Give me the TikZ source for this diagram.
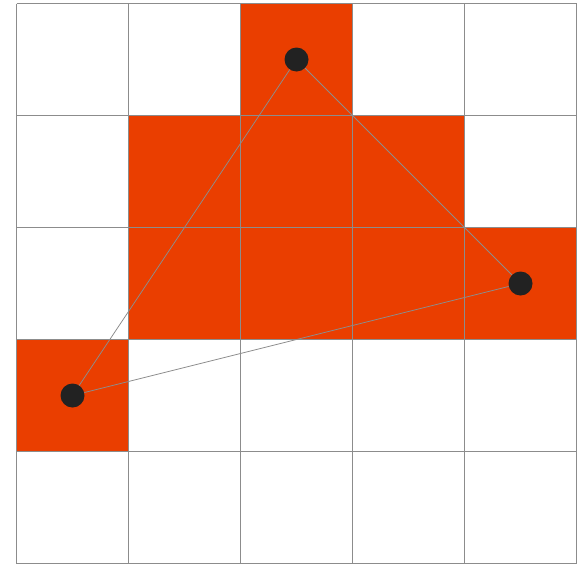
\documentclass[tikz,border=0pt]{standalone}
\usepackage{tikz}
\usetikzlibrary{positioning}
\definecolor{cellred}{RGB}{234,62,0}
\definecolor{gridgray}{RGB}{140,140,140}
\definecolor{dotblack}{RGB}{34,34,34}

\begin{document}
\begin{tikzpicture}[x=1pt, y=-1pt, every node/.style={circle, fill=dotblack, inner sep=0pt, minimum size=24pt}]
  \useasboundingbox (0,0) rectangle (577,565);

  % filled cells (column, row)
  \foreach \c/\r in {2/0, 1/1, 2/1, 3/1, 1/2, 2/2, 3/2, 4/2, 0/3}
    \fill[cellred] (16.5+112*\c,3.5+112*\r) rectangle ++(112,112);

  % grid
  \foreach \i in {0,...,5} {
    \draw[gridgray, line width=1.5pt] (16.5+112*\i,3.5) -- (16.5+112*\i,563.5);
    \draw[gridgray, line width=1.5pt] (16.5,3.5+112*\i) -- (576.5,3.5+112*\i);
  }

  \node (A) at (72.5,395.5) {};
  \node (B) at (296.5,59.5) {};
  \node (C) at (520.5,283.5) {};

  \draw[gridgray, line width=0.8pt] (A) -- (B);
  \draw[gridgray, line width=0.8pt] (B) -- (C);
  \draw[gridgray, line width=0.8pt] (C) -- (A);
\end{tikzpicture}
\end{document}
